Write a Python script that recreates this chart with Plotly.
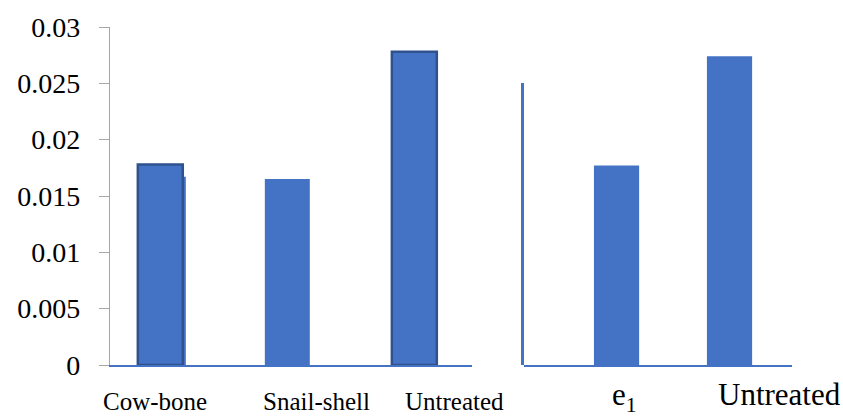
import plotly.graph_objects as go

# Values read per group (Cow-bone has two overlapping readings)
left_categories = ["Cow-bone", "Snail-shell", "Untreated"]
left_plain_idx = [0, 1]
left_plain_vals = [0.0167, 0.0165]
left_outlined_idx = [0, 2]
left_outlined_vals = [0.0178, 0.0278]

right_categories = ["e<sub>1</sub>", "Untreated"]
right_idx = [0, 1]
right_vals = [0.0177, 0.0274]

y_ticks = [0, 0.005, 0.01, 0.015, 0.02, 0.025, 0.03]
y_tick_text = ["0", "0.005", "0.01", "0.015", "0.02", "0.025", "0.03"]

BLUE = "#4472C4"
DARK = "#2F528F"
GREY = "#A6A6A6"
SERIF = "Liberation Serif"

W, H = 843, 419
ML, MR, MT, MB = 110, 51, 21, 54
plot_w = W - ML - MR
plot_h = H - MT - MB


def px_x(px):
    return (px - ML) / plot_w


def px_y(py):
    return (H - MB - py) / plot_h


bw_left = 0.354
bw_right = 0.40

fig = go.Figure()

fig.add_trace(go.Bar(
    x=left_plain_idx, y=left_plain_vals, width=bw_left,
    offset=[-bw_left / 2 + 0.024, -bw_left / 2],
    marker=dict(color=BLUE, line=dict(width=0)),
    xaxis="x", yaxis="y", showlegend=False,
))
fig.add_trace(go.Bar(
    x=left_outlined_idx, y=left_outlined_vals, width=bw_left,
    marker=dict(color=BLUE, line=dict(color=DARK, width=2.5)),
    xaxis="x", yaxis="y", showlegend=False,
))
fig.add_trace(go.Bar(
    x=right_idx, y=right_vals, width=bw_right,
    marker=dict(color=BLUE, line=dict(width=0)),
    xaxis="x2", yaxis="y", showlegend=False,
))
# empty trace so the right panel's own vertical axis gets drawn
fig.add_trace(go.Scatter(
    x=[None], y=[None], xaxis="x2", yaxis="y2", mode="markers",
    showlegend=False, hoverinfo="skip",
))

axis_common = dict(showgrid=False, zeroline=False, showticklabels=False,
                   ticks="", showline=True, linecolor=BLUE, linewidth=2,
                   type="linear", fixedrange=True)

fig.update_layout(
    width=W, height=H, autosize=False,
    margin=dict(l=ML, r=MR, t=MT, b=MB, pad=0),
    paper_bgcolor="white", plot_bgcolor="rgba(0,0,0,0)",
    barmode="overlay",
    xaxis=dict(domain=[0, px_x(472)], range=[-0.396, 2.454], anchor="y",
               **axis_common),
    xaxis2=dict(domain=[px_x(524), 1], range=[-0.819, 1.553], anchor="y",
                **axis_common),
    yaxis=dict(range=[0, 0.03], domain=[0, 1], anchor="x",
               tickvals=y_ticks, ticktext=y_tick_text,
               ticks="outside", ticklen=10, tickcolor=GREY, tickwidth=1.3,
               showline=True, linecolor=GREY, linewidth=1.3,
               showgrid=False, zeroline=False,
               ticklabelstandoff=13,
               tickfont=dict(family=SERIF, size=28, color="black")),
    yaxis2=dict(domain=[0, px_y(78)], range=[0, 1], anchor="x2",
                showline=True, linecolor=BLUE, linewidth=2.5,
                showgrid=False, zeroline=False, showticklabels=False,
                ticks=""),
)

left_label_x = [154.5, 316, 454.5]
for name, px in zip(left_categories, left_label_x):
    fig.add_annotation(text=name, x=px_x(px), y=px_y(402), xref="paper",
                       yref="paper", xanchor="center", yanchor="middle",
                       showarrow=False,
                       font=dict(family=SERIF, size=25, color="black"))

right_label_x = [624.5, 779]
right_label_y = [398, 395]
for name, px, py in zip(right_categories, right_label_x, right_label_y):
    fig.add_annotation(text=name, x=px_x(px), y=px_y(py), xref="paper",
                       yref="paper", xanchor="center", yanchor="middle",
                       showarrow=False,
                       font=dict(family=SERIF, size=31, color="black"))

fig.write_html("out.html", config={"displayModeBar": False})
